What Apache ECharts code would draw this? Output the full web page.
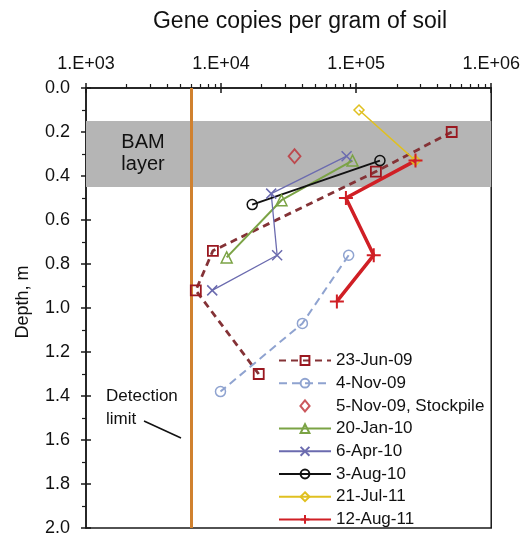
<!DOCTYPE html>
<html>
<head>
<meta charset="utf-8">
<script src="https://cdn.jsdelivr.net/npm/echarts@6/dist/echarts.min.js"></script>
<style>html,body{margin:0;padding:0;background:#fff}#c{width:523px;height:539px}</style>
</head>
<body>
<div id="c"></div>
<script>
// ---- data (gene copies per gram of soil vs depth, m) ----
const SERIES_NAMES = ['23-Jun-09','4-Nov-09','5-Nov-09, Stockpile','20-Jan-10','6-Apr-10','3-Aug-10','21-Jul-11','12-Aug-11'];
const depth_23Jun09 = [0.20, 0.38, 0.74, 0.92, 1.30];
const copies_23Jun09 = [5.1e5, 1.4e5, 8.7e3, 6.5e3, 1.9e4];
const depth_4Nov09 = [0.76, 1.07, 1.38];
const copies_4Nov09 = [8.8e4, 4.0e4, 9.9e3];
const depth_5Nov09 = [0.31];
const copies_5Nov09 = [3.5e4];
const depth_20Jan10 = [0.33, 0.51, 0.77];
const copies_20Jan10 = [9.4e4, 2.8e4, 1.1e4];
const depth_6Apr10 = [0.31, 0.48, 0.76, 0.92];
const copies_6Apr10 = [8.5e4, 2.35e4, 2.6e4, 8.6e3];
const depth_3Aug10 = [0.33, 0.53];
const copies_3Aug10 = [1.5e5, 1.7e4];
const depth_21Jul11 = [0.10, 0.33];
const copies_21Jul11 = [1.05e5, 2.75e5];
const depth_12Aug11 = [0.33, 0.50, 0.76, 0.97];
const copies_12Aug11 = [2.75e5, 8.4e4, 1.35e5, 7.2e4];
const detectionLimit = 6000;
const bamLayer = [0.15, 0.45];
const yTickLabels = ['0.0','0.2','0.4','0.6','0.8','1.0','1.2','1.4','1.6','1.8','2.0'];

const FONT = "'Liberation Sans', Arial, sans-serif";
const pairs = (xs, ys) => xs.map((x, i) => [x, ys[i]]);

// minor log ticks (2..9 per decade), in log10 space for helper axis
const minorTicks = [];
for (let e = 3; e < 6; e++) for (let k = 2; k <= 9; k++) minorTicks.push(Math.log10(k * Math.pow(10, e)));

const chart = echarts.init(document.getElementById('c'), null, {renderer: 'canvas'});

function lineSeries(name, xs, ys, o) {
  return {
    name, type: 'line', xAxisIndex: 0, yAxisIndex: 0,
    data: pairs(xs, ys),
    symbol: o.symbol, symbolSize: o.size,
    lineStyle: {color: o.color, width: o.width, type: o.dash ? [o.dash[0], o.dash[1]] : 'solid'},
    itemStyle: {color: o.fill || 'transparent', borderColor: o.mcolor || o.color, borderWidth: o.bw || 1.5},
    emphasis: {disabled: true}, z: 5
  };
}

const crossPath = 'path://M0,0L10,10M10,0L0,10';
const plusPath = 'path://M5,0L5,10M0,5L10,5';
const diamondPath = 'path://M5,0L10,6L5,12L0,6Z';

const option = {
  animation: false,
  backgroundColor: '#fff',
  textStyle: {fontFamily: FONT},
  grid: {left: 86, right: 31, top: 88, bottom: 11, show: true, borderColor: '#1a1a1a', borderWidth: 1.5, backgroundColor: 'transparent'},
  xAxis: [
    {type: 'log', logBase: 10, min: 1e3, max: 1e6, position: 'top',
     axisLine: {show: true, lineStyle: {color: '#1a1a1a', width: 1.5}},
     axisTick: {show: true, length: 5, inside: false, lineStyle: {color: '#1a1a1a', width: 1.5}},
     axisLabel: {show: true, margin: 15, fontSize: 18, color: '#111', fontFamily: FONT,
       formatter: v => '1.E+' + String(Math.round(Math.log10(v))).padStart(2, '0')},
     splitLine: {show: false}},
    {type: 'value', min: 3, max: 6, position: 'top',
     axisLine: {show: false}, axisLabel: {show: false}, splitLine: {show: false},
     axisTick: {show: true, length: 4, inside: false, customValues: minorTicks, lineStyle: {color: '#1a1a1a', width: 1.2}}},
    {type: 'value', min: 3, max: 6, interval: 1, position: 'top',
     axisLine: {show: false}, axisLabel: {show: false}, splitLine: {show: false},
     axisTick: {show: true, length: 5, inside: true, lineStyle: {color: '#1a1a1a', width: 1.5}}}
  ],
  yAxis: [
    {type: 'value', inverse: true, min: 0, max: 2, interval: 0.2, position: 'left',
     axisLine: {show: true, lineStyle: {color: '#1a1a1a', width: 1.5}},
     axisTick: {show: true, length: 5, inside: false, lineStyle: {color: '#1a1a1a', width: 1.5}},
     minorTick: {show: true, splitNumber: 2, length: 4, lineStyle: {color: '#1a1a1a', width: 1.2}},
     axisLabel: {margin: 16, fontSize: 18, color: '#111', fontFamily: FONT,
       formatter: (v) => yTickLabels[Math.round(v / 0.2)]},
     splitLine: {show: false}},
    {type: 'value', inverse: true, min: 0, max: 2, interval: 0.2, position: 'left',
     axisLine: {show: false}, axisLabel: {show: false}, splitLine: {show: false},
     axisTick: {show: true, length: 5, inside: true, lineStyle: {color: '#1a1a1a', width: 1.5}}}
  ],
  legend: {
    orient: 'vertical', left: 278, top: 352, padding: 0, itemWidth: 52, itemHeight: 11, itemGap: 5.7,
    data: SERIES_NAMES.map(n => n === '5-Nov-09, Stockpile' ? {name: n, icon: diamondPath} : {name: n}),
    symbolKeepAspect: true,
    textStyle: {fontSize: 17, color: '#111', fontFamily: FONT, lineHeight: 17},
    selectedMode: false
  },
  graphic: [
    {type: 'text', x: 300, y: 22, style: {text: 'Gene copies per gram of soil', font: '23px ' + FONT, fill: '#111', textAlign: 'center', textVerticalAlign: 'middle'}},
    {type: 'text', x: 23, y: 302, rotation: Math.PI / 2, style: {text: 'Depth, m', font: '18px ' + FONT, fill: '#111', textAlign: 'center', textVerticalAlign: 'middle'}},
    {type: 'text', x: 143, y: 153, z: 10, style: {text: 'BAM\nlayer', font: '20px ' + FONT, lineHeight: 22, fill: '#111', textAlign: 'center', textVerticalAlign: 'middle'}},
    {type: 'text', x: 106, y: 408, z: 10, style: {text: 'Detection\nlimit', font: '17px ' + FONT, lineHeight: 23, fill: '#111', textAlign: 'left', textVerticalAlign: 'middle'}},
    {type: 'line', z: 10, shape: {x1: 144, y1: 421, x2: 181, y2: 438}, style: {stroke: '#111', lineWidth: 1.5}}
  ],
  series: [
    {name: 'band', type: 'line', data: [], xAxisIndex: 0, yAxisIndex: 0, z: 1,
     markArea: {silent: true, itemStyle: {color: '#b5b5b5', opacity: 1}, data: [[{yAxis: bamLayer[0]}, {yAxis: bamLayer[1]}]]},
     markLine: {silent: true, symbol: ['none', 'none'], label: {show: false},
       lineStyle: {color: '#d0812f', width: 3, type: 'solid'}, data: [{xAxis: detectionLimit}]}},
    lineSeries('23-Jun-09', copies_23Jun09, depth_23Jun09, {symbol: 'rect', size: 10, color: '#843236', mcolor: '#9a1820', width: 2.8, dash: [7, 5], bw: 1.8}),
    lineSeries('4-Nov-09', copies_4Nov09, depth_4Nov09, {symbol: 'circle', size: 10, color: '#8fa3d0', width: 2, dash: [8, 5]}),
    {name: '5-Nov-09, Stockpile', type: 'scatter', xAxisIndex: 0, yAxisIndex: 0, data: pairs(copies_5Nov09, depth_5Nov09),
     symbol: 'diamond', symbolSize: [12, 14], itemStyle: {color: 'transparent', borderColor: '#be2e34', borderWidth: 1.8}, emphasis: {disabled: true}, z: 5},
    lineSeries('20-Jan-10', copies_20Jan10, depth_20Jan10, {symbol: 'triangle', size: 11, color: '#7ba345', width: 2}),
    lineSeries('6-Apr-10', copies_6Apr10, depth_6Apr10, {symbol: crossPath, size: 10, color: '#6b6baf', width: 1.3}),
    lineSeries('3-Aug-10', copies_3Aug10, depth_3Aug10, {symbol: 'circle', size: 10, color: '#111111', width: 2}),
    lineSeries('21-Jul-11', copies_21Jul11, depth_21Jul11, {symbol: 'diamond', size: 10, color: '#e0c020', width: 1.5}),
    lineSeries('12-Aug-11', copies_12Aug11, depth_12Aug11, {symbol: plusPath, size: 14, color: '#d01f25', width: 3.5, bw: 2})
  ]
};
chart.setOption(option);
</script>
</body>
</html>
